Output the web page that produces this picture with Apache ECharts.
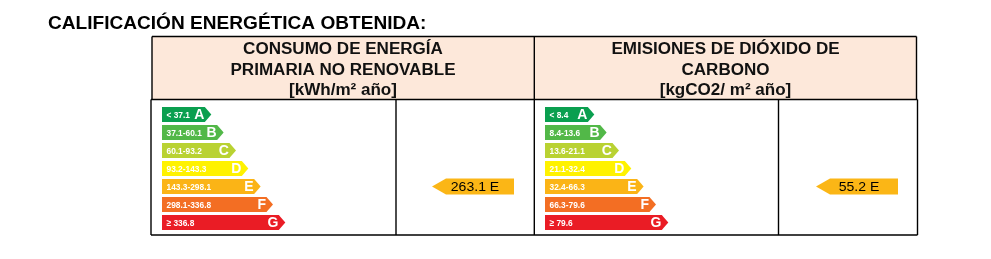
<!DOCTYPE html>
<html>
<head>
<meta charset="utf-8">
<script src="https://cdn.jsdelivr.net/npm/echarts@6/dist/echarts.min.js"></script>
<style>html,body{margin:0;padding:0;background:#fff}#c{width:991px;height:259px}</style>
</head>
<body>
<div id="c"></div>
<script>
const ratings = ['A', 'B', 'C', 'D', 'E', 'F', 'G'];
const energyRanges = ['< 37.1', '37.1-60.1', '60.1-93.2', '93.2-143.3', '143.3-298.1', '298.1-336.8', '≥ 336.8'];
const co2Ranges = ['< 8.4', '8.4-13.6', '13.6-21.1', '21.1-32.4', '32.4-66.3', '66.3-79.6', '≥ 79.6'];
const barSteps = [4, 5, 6, 7, 8, 9, 10];
const ratingColors = ['#0a9f4f', '#52b848', '#b9d232', '#fff200', '#fbb416', '#f36e23', '#ea1c25'];
const energyValue = 263.1, energyRating = 'E';
const co2Value = 55.2, co2Rating = 'E';
const titleText = 'CALIFICACIÓN ENERGÉTICA OBTENIDA:';
const energyHeader = ['CONSUMO DE ENERGÍA', 'PRIMARIA NO RENOVABLE', '[kWh/m² año]'];
const co2Header = ['EMISIONES DE DIÓXIDO DE', 'CARBONO', '[kgCO2/ m² año]'];

const chart = echarts.init(document.getElementById('c'), null, {renderer: 'canvas'});
const FONT = "'Liberation Sans', Arial, sans-serif";

function barRender(ranges) {
  return function (params, api) {
    const i = params.dataIndex;
    const s = api.coord([0, i]);
    const e = api.coord([api.value(0), i]);
    const bh = api.size([0, 1])[1] * 15 / 18;
    const y0 = s[1] - bh / 2, y1 = s[1] + bh / 2;
    const tip = 6.5;
    const x0 = s[0], x1 = e[0];
    return {
      type: 'group',
      children: [
        {type: 'polygon', shape: {points: [[x0, y0], [x1 - tip, y0], [x1, s[1]], [x1 - tip, y1], [x0, y1]]},
          style: {fill: ratingColors[i]}},
        {type: 'text', x: x0 + 4.5, y: s[1] + 0.5, scaleX: 0.88,
          style: {text: ranges[i], x: 0, y: 0, fill: '#fff',
          font: 'bold 9.5px ' + FONT, verticalAlign: 'middle', align: 'left'}},
        {type: 'text', style: {text: ratings[i], x: x1 - tip - 0.5, y: s[1] + 1, fill: '#fff',
          font: 'bold 14px ' + FONT, verticalAlign: 'middle', align: 'right'}}
      ]
    };
  };
}
function indRender(value, rating) {
  return function (params, api) {
    const idx = ratings.indexOf(rating);
    const s = api.coord([0, idx]);
    const e = api.coord([1, idx]);
    const h = 16;
    const y0 = s[1] - h / 2, y1 = s[1] + h / 2;
    const head = 14;
    return {
      type: 'group',
      children: [
        {type: 'polygon', shape: {points: [[s[0], s[1]], [s[0] + head, y0], [e[0], y0], [e[0], y1], [s[0] + head, y1]]},
          style: {fill: '#fbb616'}},
        {type: 'text', x: (s[0] + e[0]) / 2 + 2, y: s[1] + 0.5, scaleX: 1.04,
          style: {text: value.toFixed(1) + ' ' + rating, x: 0, y: 0,
          fill: '#000', font: '13.5px ' + FONT, align: 'center', verticalAlign: 'middle'}}
      ]
    };
  };
}

const gridTop = 105.5, gridH = 126;
const grids = [
  {left: 162, top: gridTop, width: 123.3, height: gridH},
  {left: 432, top: gridTop, width: 82, height: gridH},
  {left: 545, top: gridTop, width: 123.3, height: gridH},
  {left: 816, top: gridTop, width: 82, height: gridH}
];
const xAxes = grids.map((g, k) => ({type: 'value', gridIndex: k, min: 0, max: (k % 2 === 0) ? 10 : 1, show: false}));
const yAxes = grids.map((g, k) => ({type: 'category', gridIndex: k, data: ratings, inverse: true, show: false}));

function headerTexts(lines, cx) {
  return lines.map((t, j) => ({type: 'text', x: cx, y: 49.5 + j * 20.7, scaleX: 1.065,
    style: {text: t, font: 'bold 16px ' + FONT, fill: '#111', align: 'center', verticalAlign: 'middle'}, z: 10}));
}
const LW = 1.4;
function line(x1, y1, x2, y2) {
  return {type: 'line', shape: {x1, y1, x2, y2}, style: {stroke: '#000', lineWidth: LW}, z: 5};
}

chart.setOption({
  animation: false,
  grid: grids,
  xAxis: xAxes,
  yAxis: yAxes,
  series: [
    {type: 'custom', xAxisIndex: 0, yAxisIndex: 0, data: barSteps.map((v, i) => [v, i]), renderItem: barRender(energyRanges), encode: {x: 0, y: 1}},
    {type: 'custom', xAxisIndex: 1, yAxisIndex: 1, data: [[1, ratings.indexOf(energyRating)]], renderItem: indRender(energyValue, energyRating), encode: {x: 0, y: 1}},
    {type: 'custom', xAxisIndex: 2, yAxisIndex: 2, data: barSteps.map((v, i) => [v, i]), renderItem: barRender(co2Ranges), encode: {x: 0, y: 1}},
    {type: 'custom', xAxisIndex: 3, yAxisIndex: 3, data: [[1, ratings.indexOf(co2Rating)]], renderItem: indRender(co2Value, co2Rating), encode: {x: 0, y: 1}}
  ],
  graphic: [
    {type: 'text', x: 48, y: 24, scaleX: 1.06, style: {text: titleText, font: 'bold 18px ' + FONT, fill: '#000', verticalAlign: 'middle', align: 'left'}},
    {type: 'rect', shape: {x: 152, y: 36.5, width: 764.5, height: 63}, style: {fill: '#fde8da'}, z: 1},
    line(152, 36.5, 916.5, 36.5),
    line(152, 36.5, 152, 99.5),
    line(916.5, 36.5, 916.5, 99.5),
    line(151, 99.5, 917.5, 99.5),
    line(534.3, 36.5, 534.3, 235),
    line(151, 99.5, 151, 235),
    line(917.5, 99.5, 917.5, 235),
    line(396, 99.5, 396, 235),
    line(778.5, 99.5, 778.5, 235),
    line(151, 235, 917.5, 235),
    ...headerTexts(energyHeader, 343),
    ...headerTexts(co2Header, 725.5)
  ]
});
</script>
</body>
</html>
